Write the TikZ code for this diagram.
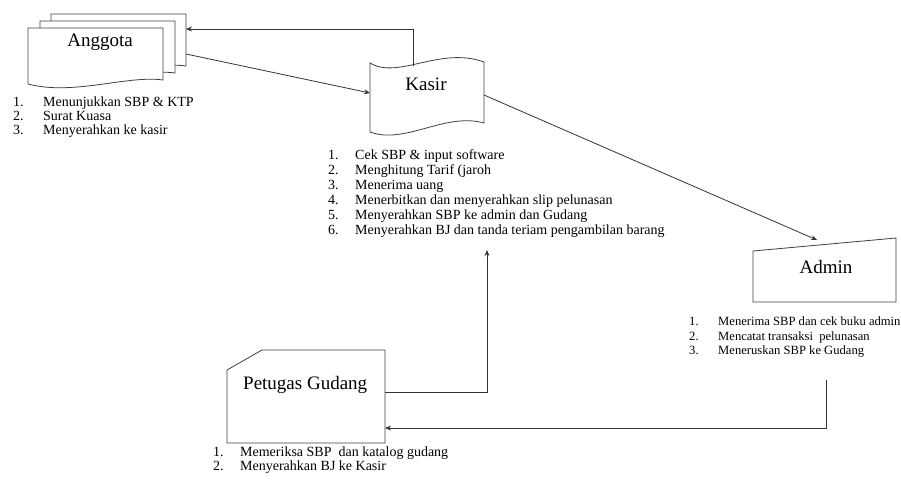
\documentclass[tikz,border=0pt]{standalone}
\usepackage{fontspec}
\setmainfont{Liberation Serif}
\usetikzlibrary{arrows.meta}
\begin{document}
\begin{tikzpicture}[x=1pt,y=-1pt,
  shapebox/.style={draw=black!75, fill=white, line width=0.8pt},
  conn/.style={draw=black!80, line width=0.8pt, -{Stealth[length=6pt,width=5pt]}},
  plain/.style={draw=black!80, line width=0.8pt},
  lbl/.style={inner sep=0pt, font=\fontsize{19}{22}\selectfont},
  listA/.style={inner sep=0pt, anchor=base west, font=\fontsize{14}{14}\selectfont},
  listB/.style={inner sep=0pt, anchor=base west, font=\fontsize{14}{15}\selectfont},
  listC/.style={inner sep=0pt, anchor=base west, font=\fontsize{12.6}{14.5}\selectfont}]
\useasboundingbox (0,0) rectangle (901,480);

% Anggota: multi-document
\foreach \xo/\yo in {51/14, 40/21, 28/28}{
  \draw[shapebox] (\xo,\yo) -- ++(135,0) -- ++(0,52)
    .. controls ++(-36,-5) and ++(45,12) .. ++(-135,4) -- cycle;
}
\node[lbl] (anggota) at (100,42) {Anggota};

% Kasir: punched tape
\draw[shapebox] (370,63) .. controls (398,80) and (440,46) .. (484,62)
  -- (484,123) .. controls (445,112) and (405,145) .. (370,132) -- cycle;
\node[lbl] (kasir) at (426,84) {Kasir};

% Admin: manual input
\draw[shapebox] (753,251) -- (896,238) -- (896,302) -- (753,302) -- cycle;
\node[lbl] (admin) at (826,267) {Admin};

% Petugas Gudang: card
\draw[shapebox] (262,350) -- (385,350) -- (385,443) -- (227,443) -- (227,370) -- cycle;
\node[lbl, anchor=west] (gudang) at (243,385) {Petugas Gudang};

% lists
\node[listA] (anggotaList) at (13,106.5) {\begin{tabular}[t]{@{}p{30pt}@{}l@{}}
1. & Menunjukkan SBP \& KTP\\
2. & Surat Kuasa\\
3. & Menyerahkan ke kasir
\end{tabular}};

\node[listB] (kasirList) at (328,159) {\begin{tabular}[t]{@{}p{27pt}@{}l@{}}
1. & Cek SBP \& input software\\
2. & Menghitung Tarif (jaroh\\
3. & Menerima uang\\
4. & Menerbitkan dan menyerahkan slip pelunasan\\
5. & Menyerahkan SBP ke admin dan Gudang\\
6. & Menyerahkan BJ dan tanda teriam pengambilan barang
\end{tabular}};

\node[listC] (adminList) at (689,325.5) {\begin{tabular}[t]{@{}p{29pt}@{}l@{}}
1. & Menerima SBP dan cek buku admin\\
2. & Mencatat transaksi\ \ pelunasan\\
3. & Meneruskan SBP ke Gudang
\end{tabular}};

\node[listA] (gudangList) at (213,456.5) {\begin{tabular}[t]{@{}p{27pt}@{}l@{}}
1. & Memeriksa SBP\ \ dan katalog gudang\\
2. & Menyerahkan BJ ke Kasir
\end{tabular}};

% connector ends
\coordinate (kasirT) at (413,66);
\coordinate (angR1) at (186,29);
\coordinate (angR2) at (186,54);
\coordinate (kasirL) at (370,93);
\coordinate (kasirR) at (484,95);
\coordinate (adminT) at (817,240);
\coordinate (adminB) at (826,380);
\coordinate (gudR1) at (385,428);
\coordinate (gudR2) at (385,392);
\coordinate (kasirB) at (487,250);

\draw[conn] (kasirT) |- (angR1);
\draw[conn] (angR2) -- (kasirL);
\draw[conn] (kasirR) -- (adminT);
\draw[conn] (adminB) |- (gudR1);
\draw[conn] (gudR2) -| (kasirB);
\end{tikzpicture}
\end{document}
